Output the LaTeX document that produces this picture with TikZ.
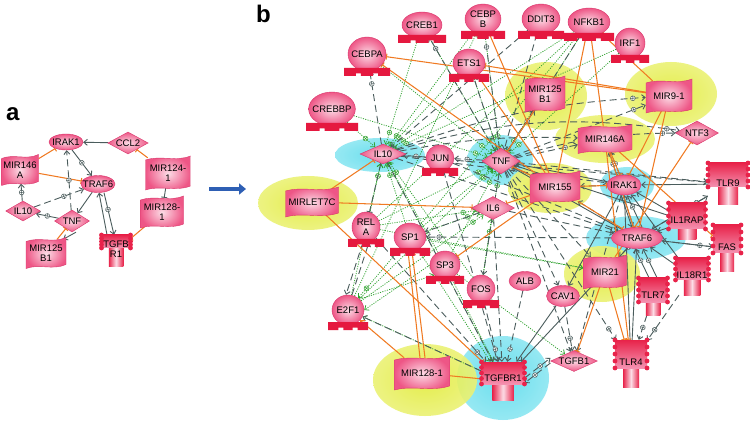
\documentclass[tikz,border=0pt]{standalone}
\usepackage{fontspec}
\setmainfont{Liberation Sans}
\usetikzlibrary{shapes.geometric,arrows.meta,decorations.markings}
\pgfdeclarelayer{bg}
\pgfdeclarelayer{halo}
\pgfdeclarelayer{edges}
\pgfsetlayers{bg,halo,edges,main}
\definecolor{pinkL}{HTML}{FCDCE6}
\definecolor{pinkD}{HTML}{EE5686}
\definecolor{pinkE}{HTML}{D9346A}
\definecolor{baseR}{HTML}{E5183F}
\definecolor{recR}{HTML}{E8234A}
\definecolor{haloY}{HTML}{E2EC3A}
\definecolor{haloC}{HTML}{5ADCEC}
\definecolor{egray}{HTML}{4A5C5C}
\definecolor{egreen}{HTML}{2EA22E}
\definecolor{eorange}{HTML}{F07A22}
\definecolor{arrowB}{HTML}{2E5FB4}
\tikzset{
 txt/.style={font=\fontsize{9.5}{10.5}\selectfont, align=center, inner sep=0pt, text=black},
 elln/.style={txt, ellipse, shade, inner color=pinkL, outer color=pinkD, draw=pinkE, line width=0.4pt, inner xsep=-3pt, inner ysep=-0.5pt},
 diam/.style={txt, diamond, aspect=2.4, shade, inner color=pinkL, outer color=pinkD, draw=pinkE, line width=0.4pt},
 boxn/.style={rectangle, inner sep=0pt},
 pm/.style={postaction={decorate,decoration={markings,mark=at position #1 with {\draw[solid,-,line width=0.5pt,fill=white] (0,0) circle (2.4pt); \draw[solid,-,line width=0.5pt] (-2.4pt,0)--(2.4pt,0) (0,-2.4pt)--(0,2.4pt);}}}},
 pm/.default=-13pt,
 barb/.style={-{Straight Barb[length=3.5pt,width=6pt]}},
 dashpl/.style={color=egray, line width=0.9pt, dash pattern=on 7pt off 4pt, barb},
 dashact/.style={dashpl, pm},
 dashinh/.style={color=egray, line width=0.9pt, dash pattern=on 7pt off 4pt, -{Bar[width=6pt]}},
 solact/.style={color=egray, line width=0.9pt, barb},
 solinh/.style={color=egray, line width=0.9pt, -{Bar[width=6pt]}},
 grnpl/.style={color=egreen, line width=0.75pt, dash pattern=on 1.1pt off 1.3pt, barb},
 orinh/.style={color=eorange, line width=1.05pt, -{Bar[width=6pt]}},
 oract/.style={color=eorange, line width=1.05pt, barb},
}
% miRNA wave box: name x y w h text
\newcommand\mirn[6]{%
 \shade[inner color=pinkL, outer color=pinkD, draw=pinkE, line width=0.4pt, shift={(#2,#3)}]
  (-#4/2,-#5/2+2) .. controls (-#4/6,-#5/2-3) and (#4/6,-#5/2+4) .. (#4/2,-#5/2-2)
  -- (#4/2,#5/2-2) .. controls (#4/6,#5/2+4) and (-#4/6,#5/2-3) .. (-#4/2,#5/2+2) -- cycle;
 \node[txt, boxn, minimum width=#4pt, minimum height=#5pt] (#1) at (#2,#3) {#6};}
% transcription factor ball on base: name x y rx ry text
\newcommand\tfn[6]{%
 \node[elln, minimum width={2*#4pt}, minimum height={2*#5pt}] (#1) at (#2,#3) {#6};
 \fill[baseR, shift={(#2,#3)}] (-#4-4,#5-3) -- (#4+4,#5-3) -- (#4+4,#5+5)
  -- ({#4*0.45+2.5},#5+5) -- ({#4*0.45+2.5},#5+2.5) -- ({#4*0.45-2.5},#5+2.5) -- ({#4*0.45-2.5},#5+5)
  -- ({-#4*0.45+2.5},#5+5) -- ({-#4*0.45+2.5},#5+2.5) -- ({-#4*0.45-2.5},#5+2.5) -- ({-#4*0.45-2.5},#5+5)
  -- (-#4-4,#5+5) -- cycle;}
% receptor: name x y w top mid bot text
\newcommand\recn[8]{%
 \begin{scope}[shift={(#2,#3)}]
  \shade[left color=recR, right color=recR, middle color=pinkL] ({-#4/4},{(#6)-1}) rectangle ({#4/4},#7);
  \shade[top color=recR, bottom color=pinkD!55!pinkL] ({-#4/2},-#5) rectangle ({#4/2},#6);
  \foreach \k in {0,1,2,3,4}{%
   \fill[recR] ({-#4/2},{-#5+\k*(#5+(#6))/4}) circle (2.4pt);
   \fill[recR] ({#4/2},{-#5+\k*(#5+(#6))/4}) circle (2.4pt);}
 \end{scope}
 \node[boxn, minimum width=#4pt, minimum height={(#5+#7)*1pt}] (#1) at (#2,{#3+(#7-#5)/2}) {};
 \node[txt] (#1t) at (#2,#3) {#8};}
% halo: x y rx ry colour
\newcommand\halon[5]{\shade[inner color=#5, outer color=#5!70!white, fill opacity=0.9] (#1,#2) ellipse [x radius=#3pt, y radius=#4pt];}

\begin{document}
\begin{tikzpicture}[x=1pt,y=-1pt]
\useasboundingbox (0,0) rectangle (750,422);
\begin{pgfonlayer}{bg}
\fill[white] (0,0) rectangle (750,422);
\end{pgfonlayer}

% ---------- halos
\begin{pgfonlayer}{halo}
\halon{380}{155}{45}{17}{haloC}
\halon{500}{160}{33}{25}{haloC}
\halon{627}{185}{27}{18}{haloC}
\halon{636}{238}{50}{22}{haloC}
\halon{503}{378}{46}{42}{haloC}
\halon{308}{203}{50}{27}{haloY}
\halon{546}{96}{41}{34}{haloY}
\halon{671}{94}{46}{32}{haloY}
\halon{605}{139}{50}{24}{haloY}
\halon{550}{188}{42}{25}{haloY}
\halon{602}{274}{38}{28}{haloY}
\halon{425}{380}{52}{36}{haloY}
\end{pgfonlayer}

% ---------- labels and arrow
\node[font=\fontsize{24}{24}\selectfont\bfseries, anchor=base west, inner sep=0pt] (labA) at (6,121) {a};
\node[font=\fontsize{24}{24}\selectfont\bfseries, anchor=base west, inner sep=0pt] (labB) at (256,23) {b};
\coordinate (arS) at (209,189);
\coordinate (arE) at (246,189);
\draw[arrowB, line width=4.5pt, -{Triangle[length=7pt,width=11pt]}] (arS) -- (arE);

% ---------- panel a nodes
\node[elln, minimum width=34pt, minimum height=16pt] (aIRAK1) at (66,142) {IRAK1};
\node[diam, minimum width=40pt, minimum height=22pt] (aCCL2) at (128,143) {CCL2};
\mirn{aMIR146}{20}{170}{37}{27}{MIR146\\A}
\node[elln, minimum width=33pt, minimum height=17pt] (aTRAF6) at (98,184) {TRAF6};
\mirn{aMIR124}{168}{173}{45}{30}{MIR124-\\1}
\mirn{aMIR128}{162}{212}{43}{28}{MIR128-\\1}
\node[diam, minimum width=33pt, minimum height=20pt] (aIL10) at (23,211) {IL10};
\node[diam, minimum width=35pt, minimum height=22pt] (aTNF) at (72,221) {TNF};
\mirn{aMIR125}{46}{253}{40}{27}{MIR125\\B1}
\recn{aTGFBR1}{116}{249}{29}{14}{-1}{18}{TGFB\\R1}

% ---------- panel b nodes
\tfn{bCEBPA}{367}{54}{19}{17}{CEBPA}
\tfn{bCREB1}{422}{25}{20}{13}{CREB1}
\tfn{bCEBPB}{483}{19}{18}{15}{CEBP\\B}
\tfn{bDDIT3}{541}{19}{19}{15}{DDIT3}
\tfn{bNFKB1}{589}{22}{21}{14}{NFKB1}
\tfn{bIRF1}{630}{43}{15}{15}{IRF1}
\tfn{bETS1}{469}{63}{16}{14}{ETS1}
\tfn{bCREBBP}{332}{109}{22}{17}{CREBBP}
\tfn{bJUN}{440}{158}{14}{13}{JUN}
\tfn{bRELA}{366}{227}{14}{15}{REL\\A}
\tfn{bSP1}{410}{237}{16}{14}{SP1}
\tfn{bSP3}{445}{265}{15}{14}{SP3}
\tfn{bFOS}{481}{289}{14}{14}{FOS}
\tfn{bE2F1}{348}{310}{16}{15}{E2F1}

\node[diam, minimum width=46pt, minimum height=20pt] (bIL10) at (383,154) {IL10};
\node[diam, minimum width=38pt, minimum height=26pt] (bTNF) at (501,161) {TNF};
\node[diam, minimum width=43pt, minimum height=23pt] (bIL6) at (493,208) {IL6};
\node[diam, minimum width=43pt, minimum height=24pt] (bNTF3) at (697,133) {NTF3};
\node[diam, minimum width=46pt, minimum height=21pt] (bTGFB1) at (574,361) {TGFB1};

\node[elln, minimum width=34pt, minimum height=20pt] (bIRAK1) at (624,185) {IRAK1};
\node[elln, minimum width=51pt, minimum height=21pt] (bTRAF6) at (637,238) {TRAF6};
\node[elln, minimum width=32pt, minimum height=19pt] (bALB) at (525,281) {ALB};
\node[elln, minimum width=33pt, minimum height=21pt] (bCAV1) at (563,296) {CAV1};

\mirn{bMIRLET7C}{312}{202}{53}{26}{MIRLET7C}
\mirn{bMIR125B1}{545}{94}{40}{32}{MIR125\\B1}
\mirn{bMIR91}{669}{96}{46}{30}{MIR9-1}
\mirn{bMIR146A}{605}{139}{54}{25}{MIR146A}
\mirn{bMIR155}{555}{187}{50}{28}{MIR155}
\mirn{bMIR21}{605}{272}{43}{30}{MIR21}
\mirn{bMIR1281}{422}{373}{55}{30}{MIR128-1}

\recn{bTLR9}{728}{183}{40}{20}{4}{22}{TLR9}
\recn{bIL1RAP}{687}{220}{37}{17}{9}{20}{IL1RAP}
\recn{bFAS}{727}{247}{28}{22}{6}{25}{FAS}
\recn{bIL18R1}{692}{275}{33}{17}{5}{20}{IL18R1}
\recn{bTLR7}{653}{295}{29}{17}{7}{20}{TLR7}
\recn{bTLR4}{631}{362}{32}{22}{6}{25}{TLR4}
\recn{bTGFBR1}{503}{378}{43}{16}{6}{22}{TGFBR1}

% ---------- edges
\begin{pgfonlayer}{edges}
% panel a
\draw[solact] (aCCL2) -- (aIRAK1);
\draw[orinh] (aMIR124) -- (aCCL2);
\draw[orinh] (aMIR146) -- (aIRAK1);
\draw[orinh] (aMIR146) -- (aTRAF6);
\draw[solact, pm=0.5] (aIRAK1) -- (aTRAF6);
\draw[dashpl, pm=0.5] (aTNF) -- (aIRAK1);
\draw[dashpl, pm=0.6] (aIL10) -- (aTRAF6);
\draw[solact] (aTRAF6) -- (aTNF);
\draw[solact, pm=0.5] (aTNF) -- (aIL10);
\draw[solact, pm=0.5] (aIL10) -- (aMIR146);
\draw[orinh] (aMIR125) -- (aTNF);
\draw[solact] ([xshift=4pt]aTNF.south) -- ([xshift=-3pt]aMIR125.north east);
\draw[solact] ([xshift=-9pt]aTGFBR1.north) -- ([xshift=1pt]aTRAF6.south);
\draw[solact, pm=0.4] ([xshift=6pt]aTRAF6.south) -- ([xshift=-2pt]aTGFBR1.north);
\draw[solinh] (aMIR124) -- (aMIR128);
\draw[orinh] (aMIR128) -- (aTGFBR1);

% panel b: green dotted (transcriptional)
\foreach \s in {bCREBBP,bCREB1,bCEBPB,bETS1,bNFKB1,bIRF1,bRELA,bSP1,bSP3,bE2F1,bFOS,bTGFBR1}
  \draw[grnpl,pm] (\s) -- (bIL10);
\foreach \s in {bCREBBP,bCEBPA,bCREB1,bCEBPB,bETS1,bNFKB1,bIRF1,bRELA,bSP1,bSP3,bFOS,bE2F1}
  \draw[grnpl,pm] (\s) -- (bTNF);
\foreach \s in {bRELA,bSP1,bFOS,bE2F1}
  \draw[grnpl,pm] (\s) -- (bIL6);
\draw[grnpl] (bSP1) -- (bMIR21);
\draw[grnpl] (bRELA) -- (bMIR21);
\draw[grnpl] (bSP3) -- (bTGFB1);
\draw[grnpl,pm] (bSP1) -- (bE2F1);
\draw[grnpl] (bSP3.west) -- (bE2F1.east);
\draw[grnpl] (bE2F1.north east) -- (bSP3.south west);
\draw[grnpl] (bTGFBR1) -- (bE2F1);
\draw[grnpl] (bSP1) -- (bTGFBR1);
\draw[grnpl] (bSP3) -- (bTGFBR1);
\draw[grnpl] (bE2F1) -- (bCEBPB);
\draw[grnpl] (bSP1) -- (bNFKB1);
\draw[grnpl] (bRELA) -- (bNFKB1);

% gray dashed
\draw[dashact] (bIL10) -- (bCEBPA);
\draw[dashact] (bJUN) -- (bIL10);
\draw[dashact] (bTNF) -- (bJUN);
\draw[dashact] (bTNF) -- (bCREB1);
\draw[dashact] (bTNF) -- (bCEBPB);
\draw[dashpl] (bDDIT3) -- (bTNF);
\draw[dashpl] (bDDIT3) -- (bIL10);
\draw[dashpl] (bTNF) -- (bETS1);
\draw[dashpl] (bNFKB1) -- (bTNF);
\draw[dashact] (bTNF) -- (bMIR125B1);
\draw[dashact] (bTNF) -- (bMIR91);
\draw[dashact, bend left=8] (bIL10) to (bMIR91);
\draw[dashact, bend left=12] (bIL10) to (bNTF3);
\draw[dashact, bend left=8] (bTNF) to (bNTF3);
\draw[dashact] (bTNF) -- (bMIR146A);
\draw[dashpl, bend left=6] (bIL10) to (bMIR146A);
\draw[dashpl] (bIL10) -- (bTLR9);
\draw[dashpl] (bTNF) -- (bTLR9);
\draw[dashpl] (bIL10) -- (bIRAK1);
\draw[dashpl] (bIL10) -- (bTRAF6);
\draw[dashpl] (bJUN) -- (bTRAF6);
\draw[dashact] (bTRAF6) -- (bSP1);
\draw[dashpl] (bIL6) -- (bSP1);
\draw[dashpl] ([xshift=-3pt]bRELA.south) -- ([xshift=-2pt]bE2F1.north);
\draw[dashpl] ([xshift=4pt]bE2F1.north) -- ([xshift=3pt]bRELA.south);
\draw[dashinh] (bIL10) -- (bRELA);
\draw[dashact] (bRELA) -- (bTGFBR1);
\draw[dashpl] (bIL10) -- (bTGFBR1);
\draw[dashpl] (bJUN) -- (bTGFBR1);
\draw[dashpl] (bIL6) -- (bTGFBR1);
\draw[dashact] (bFOS) -- (bTGFBR1);
\draw[dashact] (bALB) -- (bTGFBR1);
\draw[dashact] ([yshift=-2pt]bTGFB1.west) -- ([yshift=-2pt]bTGFBR1.east);
\draw[dashact] ([yshift=3pt]bTGFBR1.east) -- ([yshift=3pt]bTGFB1.west);
\draw[dashact] (bCAV1) -- (bTGFB1);
\draw[dashpl] (bTNF) -- (bTGFB1);
\draw[dashpl] (bTNF) -- (bMIR21);
\draw[dashpl] (bTNF) -- (bCAV1);
\draw[dashpl] (bTNF) -- (bFOS);
\draw[dashpl] (bIL6) -- (bTRAF6);
\draw[dashact] (bTNF) -- (bTLR4);
\draw[dashact] (bTRAF6) -- (bTLR9);
\draw[dashact] (bTRAF6) -- (bFAS);
\draw[dashact] (bTLR7) -- (bTLR4);
\draw[dashact] (bIL18R1) -- (bTLR4);
\draw[dashact] (bIRAK1) -- (bMIR146A);
\draw[dashpl] (bIRAK1) -- (bMIR155);
\draw[dashpl] (bTRAF6) -- (bMIR155);
\draw[dashpl] (bTGFBR1) -- (bE2F1);
\draw[dashpl] (bIRAK1) -- (bTGFB1);
\draw[dashact] (bTRAF6) -- (bMIR21);

% gray solid
\draw[solact] (bTNF) -- (bMIR125B1);
\draw[solact] (bMIR155) -- (bTNF);
\draw[solact] (bIRAK1) -- (bTNF);
\draw[solact] (bTRAF6) -- (bTNF);
\draw[solact] (bIL1RAP) -- (bTNF);
\draw[solact] ([xshift=-3pt]bIRAK1.south) -- ([xshift=-5pt]bTRAF6.north);
\draw[solact, pm] ([xshift=5pt]bTRAF6.north) -- ([xshift=3pt]bIRAK1.south);
\draw[solact] (bIL1RAP) -- (bIRAK1);
\draw[solact] (bIL1RAP) -- (bTRAF6);
\draw[solact] (bTLR9) -- (bIRAK1);
\draw[solact] (bTLR9) -- (bTRAF6);
\draw[solact] (bFAS) -- (bTRAF6);
\draw[solact] (bIL18R1) -- (bTRAF6);
\draw[solact] (bIL18R1) -- (bIRAK1);
\draw[solact, pm] ([xshift=-4pt]bTLR7.north) -- ([xshift=-2pt]bTRAF6.south);
\draw[solact, pm] ([xshift=4pt]bTLR7.north) -- ([xshift=6pt]bTRAF6.south);
\draw[solact] (bTLR4) -- (bTRAF6);
\draw[solact] (bTLR4) -- (bIRAK1);
\draw[solact] (bIRAK1) -- (bCAV1);
\draw[solact] (bTRAF6) -- (bTGFBR1);
\draw[solact] (bCAV1) -- (bTGFBR1);
\draw[solact, pm] (bTRAF6) -- (bMIR146A);

% orange (miRNA)
\draw[orinh] (bMIRLET7C) -- (bIL10);
\draw[orinh] (bMIRLET7C) -- (bIL6);
\draw[orinh] (bMIRLET7C) -- (bTGFBR1);
\draw[orinh] ([xshift=-2pt]bMIR1281.north) -- ([xshift=-2pt]bSP1.south);
\draw[oract] ([xshift=3pt]bMIR1281.north) -- ([xshift=2pt]bSP1.south);
\draw[oract] (bMIR1281) -- (bE2F1);
\draw[orinh] (bMIR1281) -- (bTGFBR1);
\foreach \t in {bSP3,bIL6,bTNF,bCEBPA,bCEBPB,bETS1,bNFKB1,bIRAK1,bTRAF6}
  \draw[orinh] (bMIR155) -- (\t);
\draw[orinh] (bMIR125B1) -- (bTNF);
\foreach \t in {bNFKB1,bIRAK1,bTRAF6,bTLR4,bFAS}
  \draw[orinh] (bMIR146A) -- (\t);
\foreach \t in {bNFKB1,bETS1,bCEBPA,bIRAK1,bTRAF6}
  \draw[orinh] (bMIR91) -- (\t);
\foreach \t in {bTGFB1,bTLR4,bNTF3}
  \draw[orinh] (bMIR21) -- (\t);
\end{pgfonlayer}
\end{tikzpicture}
\end{document}
